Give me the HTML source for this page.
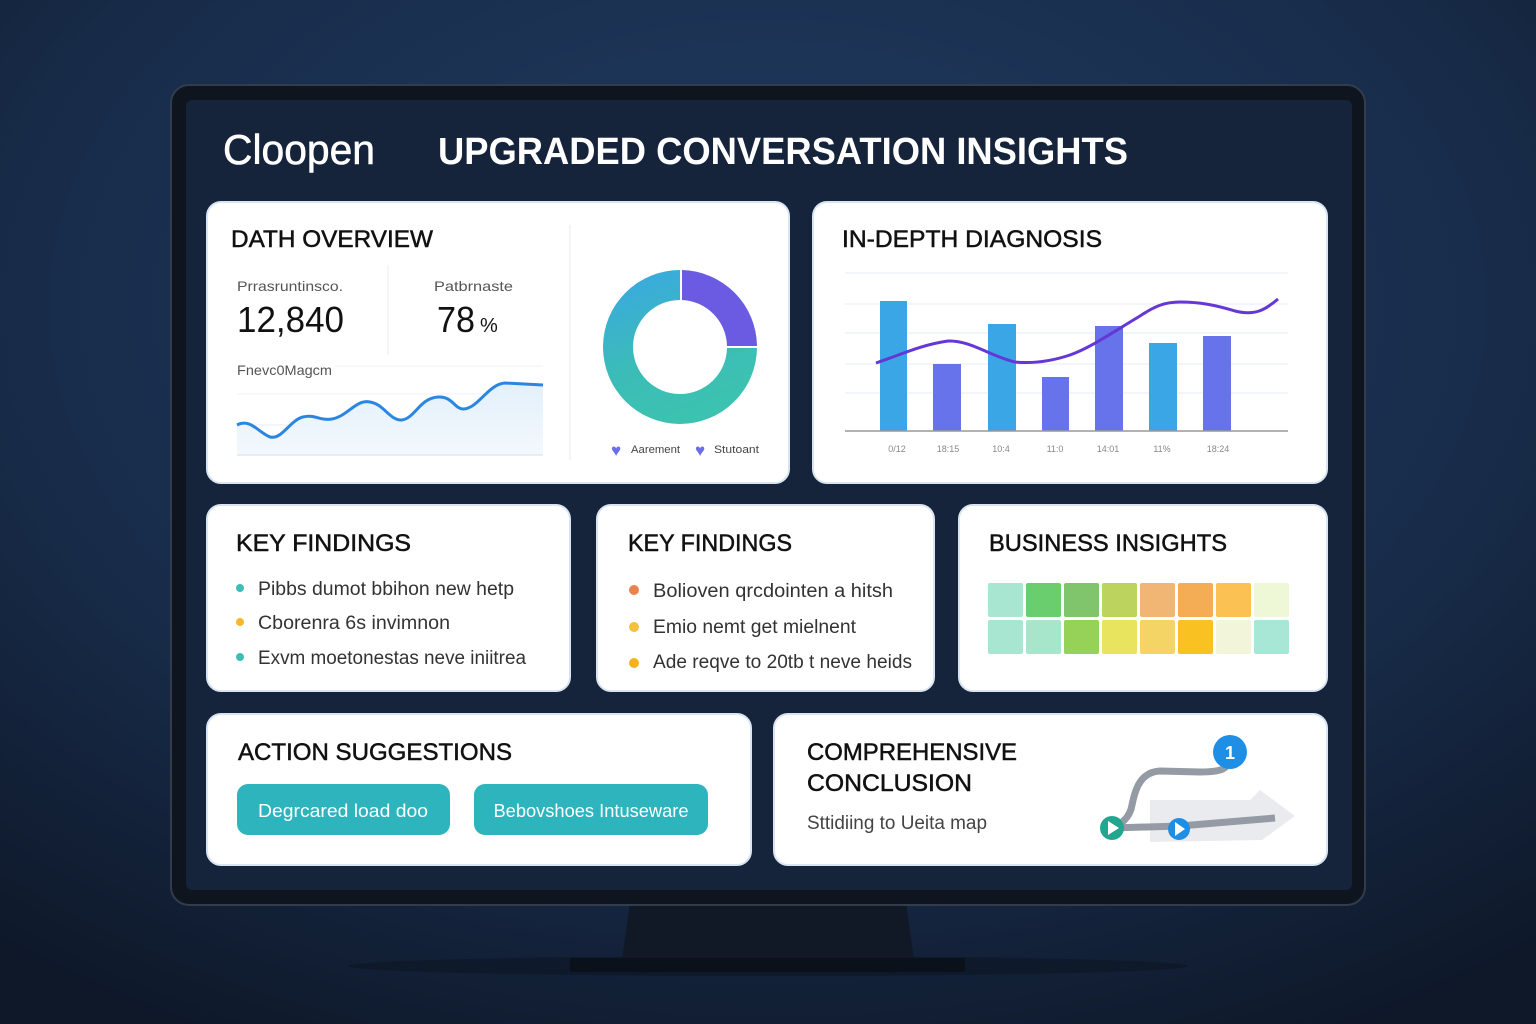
<!DOCTYPE html>
<html><head><meta charset="utf-8"><style>
html,body{margin:0;padding:0;background:#13203a;}
svg{display:block}
text{font-family:"Liberation Sans",sans-serif;}
.t{stroke:#111;stroke-width:0.5}
</style></head><body>
<svg width="1536" height="1024" viewBox="0 0 1536 1024" xmlns="http://www.w3.org/2000/svg">
<defs>
<radialGradient id="bg" cx="0.5" cy="0.3" r="0.8">
<stop offset="0" stop-color="#203c62"/><stop offset="0.6" stop-color="#182c4a"/><stop offset="1" stop-color="#0e1829"/>
</radialGradient>
<linearGradient id="dg" x1="0" y1="0" x2="0.4" y2="1">
<stop offset="0" stop-color="#3aa6e6"/><stop offset="0.6" stop-color="#3bbcb8"/><stop offset="1" stop-color="#3cc2b0"/>
</linearGradient>
<linearGradient id="area" x1="0" y1="0" x2="0" y2="1"><stop offset="0" stop-color="#e3f0fb"/><stop offset="1" stop-color="#f3f8fd"/></linearGradient>
</defs>
<rect width="1536" height="1024" fill="url(#bg)"/>
<ellipse cx="768" cy="966" rx="420" ry="10" fill="#0a111c" opacity="0.45"/>
<!-- stand -->
<polygon points="630,902 906,902 914,960 622,960" fill="#111926"/>
<rect x="570" y="958" width="395" height="14" rx="2" fill="#0b111b"/>
<!-- monitor -->
<rect x="171" y="85" width="1194" height="820" rx="18" fill="#0f151f" stroke="#323c4c" stroke-width="2"/>
<rect x="186" y="100" width="1166" height="790" rx="6" fill="#15233b"/>
<text x="223" y="164" font-size="42" fill="#fff" stroke="#fff" stroke-width="0.6" textLength="152" lengthAdjust="spacingAndGlyphs">Cloopen</text>
<text x="438" y="164" font-size="38" font-weight="bold" fill="#fff" textLength="690" lengthAdjust="spacingAndGlyphs">UPGRADED CONVERSATION INSIGHTS</text>

<!-- cards -->
<g fill="#fff" stroke="#d8e4f2" stroke-width="2">
<rect x="207" y="202" width="582" height="281" rx="14"/>
<rect x="813" y="202" width="514" height="281" rx="14"/>
<rect x="207" y="505" width="363" height="186" rx="14"/>
<rect x="597" y="505" width="337" height="186" rx="14"/>
<rect x="959" y="505" width="368" height="186" rx="14"/>
<rect x="207" y="714" width="544" height="151" rx="14"/>
<rect x="774" y="714" width="553" height="151" rx="14"/>
</g>

<!-- card1 -->
<text class="t" x="231" y="247" font-size="24" fill="#111" textLength="202" lengthAdjust="spacingAndGlyphs">DATH OVERVIEW</text>
<line x1="570" y1="225" x2="570" y2="460" stroke="#eef1f5" stroke-width="1.5"/>
<line x1="388" y1="265" x2="388" y2="355" stroke="#f1f3f6" stroke-width="1.5"/>
<text x="237" y="291" font-size="14" fill="#555" textLength="106" lengthAdjust="spacingAndGlyphs">Prrasruntinsco.</text>
<text x="237" y="332" font-size="36" fill="#111" textLength="107" lengthAdjust="spacingAndGlyphs">12,840</text>
<text x="434" y="291" font-size="14" fill="#555" textLength="79" lengthAdjust="spacingAndGlyphs">Patbrnaste</text>
<text x="437" y="332" font-size="36" fill="#111" textLength="38" lengthAdjust="spacingAndGlyphs">78</text>
<text x="480" y="332" font-size="20" fill="#111">%</text>
<text x="237" y="375" font-size="14" fill="#555" textLength="95" lengthAdjust="spacingAndGlyphs">Fnevc0Magcm</text>
<line x1="335" y1="366" x2="543" y2="366" stroke="#eef2f7"/>
<line x1="237" y1="394" x2="543" y2="394" stroke="#eef2f7"/>
<line x1="237" y1="425" x2="543" y2="425" stroke="#e6edf5"/>
<path d="M237,425 C250,418 258,432 270,437 C282,440 290,420 303,417 C315,414 320,421 332,419 C348,416 356,399 370,402 C384,404 390,421 402,420 C415,418 420,398 438,397 C452,396 455,409 463,409 C478,409 488,384 505,383 L543,385 L543,455 L237,455 Z" fill="url(#area)"/>
<line x1="237" y1="455" x2="543" y2="455" stroke="#dfe8f2" stroke-width="1.5"/>
<path d="M237,425 C250,418 258,432 270,437 C282,440 290,420 303,417 C315,414 320,421 332,419 C348,416 356,399 370,402 C384,404 390,421 402,420 C415,418 420,398 438,397 C452,396 455,409 463,409 C478,409 488,384 505,383 L543,385" fill="none" stroke="#2b86e0" stroke-width="3"/>
<!-- donut -->
<path d="M680,270 A77,77 0 1 0 757,348 L727,348 A47,47 0 1 1 680,300 Z" fill="url(#dg)"/>
<path d="M682,270 A77,77 0 0 1 757,346 L727,346 A47,47 0 0 0 682,300 Z" fill="#6a5be2"/>
<text x="611" y="456" font-size="17" fill="#6a6fe6">♥</text>
<text x="631" y="453" font-size="11" fill="#444" textLength="49" lengthAdjust="spacingAndGlyphs">Aarement</text>
<text x="695" y="456" font-size="17" fill="#6a6fe6">♥</text>
<text x="714" y="453" font-size="11" fill="#444" textLength="45" lengthAdjust="spacingAndGlyphs">Stutoant</text>

<!-- card2 -->
<text class="t" x="842" y="247" font-size="24" fill="#111" textLength="260" lengthAdjust="spacingAndGlyphs">IN-DEPTH DIAGNOSIS</text>
<g stroke="#e6ecf5" stroke-width="1">
<line x1="845" y1="273" x2="1288" y2="273"/><line x1="845" y1="304" x2="1288" y2="304"/><line x1="845" y1="333" x2="1288" y2="333"/><line x1="845" y1="364" x2="1288" y2="364"/><line x1="845" y1="393" x2="1288" y2="393"/>
</g>
<rect x="880" y="301" width="27" height="130" fill="#3ba6e6"/>
<rect x="933" y="364" width="28" height="67" fill="#6673ea"/>
<rect x="988" y="324" width="28" height="107" fill="#3ba6e6"/>
<rect x="1042" y="377" width="27" height="54" fill="#6673ea"/>
<rect x="1095" y="326" width="28" height="105" fill="#6673ea"/>
<rect x="1149" y="343" width="28" height="88" fill="#3ba6e6"/>
<rect x="1203" y="336" width="28" height="95" fill="#6673ea"/>
<line x1="845" y1="431" x2="1288" y2="431" stroke="#999" stroke-width="1.5"/>
<path d="M876,363 C900,355 920,345 948,341 C970,340 990,356 1015,362 C1035,364 1055,360 1070,355 C1090,348 1110,334 1140,316 C1155,306 1165,302 1180,302 C1200,302 1215,305 1235,311 C1255,316 1265,310 1278,299" fill="none" stroke="#6437d6" stroke-width="3"/>
<g font-size="9" fill="#888" text-anchor="middle">
<text x="897" y="452">0/12</text><text x="948" y="452">18:15</text><text x="1001" y="452">10:4</text><text x="1055" y="452">11:0</text><text x="1108" y="452">14:01</text><text x="1162" y="452">11%</text><text x="1218" y="452">18:24</text>
</g>

<!-- card3 -->
<text class="t" x="236" y="551" font-size="24" fill="#111" textLength="175" lengthAdjust="spacingAndGlyphs">KEY FINDINGS</text>
<circle cx="240" cy="588" r="4" fill="#3cbdb5"/><circle cx="240" cy="622" r="4" fill="#f5b82e"/><circle cx="240" cy="657" r="4" fill="#3cbdb5"/>
<g font-size="19" fill="#333">
<text x="258" y="595" textLength="256" lengthAdjust="spacingAndGlyphs">Pibbs dumot bbihon new hetp</text>
<text x="258" y="629" textLength="192" lengthAdjust="spacingAndGlyphs">Cborenra 6s invimnon</text>
<text x="258" y="664" textLength="268" lengthAdjust="spacingAndGlyphs">Exvm moetonestas neve iniitrea</text>
</g>
<!-- card4 -->
<text class="t" x="628" y="551" font-size="24" fill="#111" textLength="164" lengthAdjust="spacingAndGlyphs">KEY FINDINGS</text>
<circle cx="634" cy="590" r="5" fill="#e9844f"/><circle cx="634" cy="627" r="5" fill="#f5c040"/><circle cx="634" cy="663" r="5" fill="#f5b21c"/>
<g font-size="19" fill="#333">
<text x="653" y="597" textLength="240" lengthAdjust="spacingAndGlyphs">Bolioven qrcdointen a hitsh</text>
<text x="653" y="633" textLength="203" lengthAdjust="spacingAndGlyphs">Emio nemt get mielnent</text>
<text x="653" y="668" textLength="259" lengthAdjust="spacingAndGlyphs">Ade reqve to 20tb t neve heids</text>
</g>
<!-- card5 -->
<text class="t" x="989" y="551" font-size="24" fill="#111" textLength="238" lengthAdjust="spacingAndGlyphs">BUSINESS INSIGHTS</text>
<g>
<rect x="988" y="583" width="35" height="34" rx="2" fill="#a8e6d2"/>
<rect x="1026" y="583" width="35" height="34" rx="2" fill="#6acd6e"/>
<rect x="1064" y="583" width="35" height="34" rx="2" fill="#80c46c"/>
<rect x="1102" y="583" width="35" height="34" rx="2" fill="#bcd45e"/>
<rect x="1140" y="583" width="35" height="34" rx="2" fill="#f1b574"/>
<rect x="1178" y="583" width="35" height="34" rx="2" fill="#f5ad55"/>
<rect x="1216" y="583" width="35" height="34" rx="2" fill="#fbc253"/>
<rect x="1254" y="583" width="35" height="34" rx="2" fill="#eef7d6"/>
<rect x="988" y="620" width="35" height="34" rx="2" fill="#a8e6d2"/>
<rect x="1026" y="620" width="35" height="34" rx="2" fill="#a8e6cc"/>
<rect x="1064" y="620" width="35" height="34" rx="2" fill="#96d257"/>
<rect x="1102" y="620" width="35" height="34" rx="2" fill="#e8e45d"/>
<rect x="1140" y="620" width="35" height="34" rx="2" fill="#f4d465"/>
<rect x="1178" y="620" width="35" height="34" rx="2" fill="#f9c122"/>
<rect x="1216" y="620" width="35" height="34" rx="2" fill="#f2f5da"/>
<rect x="1254" y="620" width="35" height="34" rx="2" fill="#a8e6d6"/>
</g>
<!-- card6 -->
<text class="t" x="238" y="760" font-size="24" fill="#111" textLength="274" lengthAdjust="spacingAndGlyphs">ACTION SUGGESTIONS</text>
<rect x="237" y="784" width="213" height="51" rx="11" fill="#2db4bd"/>
<rect x="474" y="784" width="234" height="51" rx="11" fill="#2db4bd"/>
<text x="343" y="817" font-size="18" fill="#fff" text-anchor="middle" textLength="170" lengthAdjust="spacingAndGlyphs">Degrcared load doo</text>
<text x="591" y="817" font-size="18" fill="#fff" text-anchor="middle" textLength="195" lengthAdjust="spacingAndGlyphs">Bebovshoes Intuseware</text>
<!-- card7 -->
<text class="t" x="807" y="760" font-size="24" fill="#111" textLength="210" lengthAdjust="spacingAndGlyphs">COMPREHENSIVE</text>
<text class="t" x="807" y="791" font-size="24" fill="#111" textLength="165" lengthAdjust="spacingAndGlyphs">CONCLUSION</text>
<text x="807" y="829" font-size="19" fill="#444" textLength="180" lengthAdjust="spacingAndGlyphs">Sttidiing to Ueita map</text>
<polygon points="1150,800 1250,800 1260,790 1295,816 1262,840 1150,842" fill="#e9ebee"/>
<path d="M1230,755 C1230,770 1220,772 1200,772 L1160,771 C1140,772 1135,790 1132,805 C1130,818 1120,825 1112,828 L1180,826 L1275,818" fill="none" stroke="#959ba4" stroke-width="7" stroke-linejoin="round"/>
<circle cx="1230" cy="752" r="17" fill="#1f8fe6"/>
<text x="1230" y="759" font-size="18" font-weight="bold" fill="#fff" text-anchor="middle">1</text>
<circle cx="1112" cy="828" r="12" fill="#23a68f"/>
<polygon points="1108,821 1108,835 1119,828" fill="#fff"/>
<circle cx="1179" cy="829" r="11" fill="#1f8fe6"/>
<polygon points="1175,822 1175,836 1185,829" fill="#fff"/>
</svg>
</body></html>
